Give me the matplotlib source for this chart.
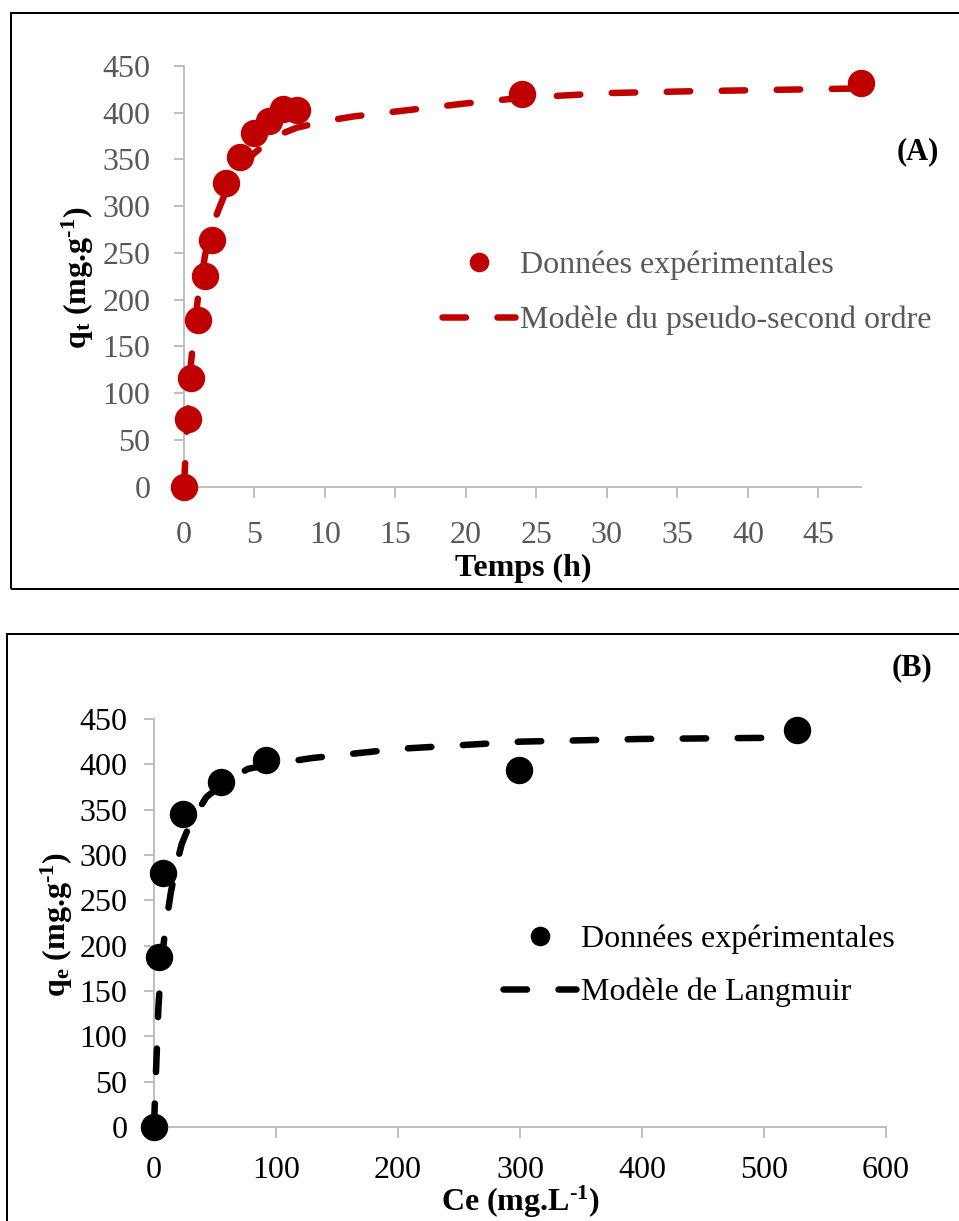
import matplotlib
matplotlib.use("Agg")
import matplotlib.pyplot as plt
from matplotlib.lines import Line2D
from matplotlib.patches import Rectangle

# ---------- DATA ----------

# (A) kinetics
temps_exp = [0, 0.25, 0.5, 1, 1.5, 2, 3, 4, 5, 6, 7, 8, 24, 48]
qt_exp = [0, 72, 116, 178, 225, 264, 325, 353, 378, 391, 404, 403, 420, 432]

temps_fit = [0, 0.25, 0.5, 1, 1.5, 2, 3, 4, 5, 6, 7, 8, 10, 12, 16, 20, 24, 30, 36, 42, 48]
qt_fit = [0, 78, 133, 204, 248, 279, 317, 341, 357, 369, 378, 384, 391, 396, 403, 410,
          416, 421, 423, 424.5, 426]

# (B) isotherm
ce_exp = [0, 4.4, 7, 24, 55, 92, 299, 527]
qe_exp = [0, 188, 280, 345, 381, 405, 394, 438]

ce_fit = [0, 1, 2.2, 3.6, 5, 7.7, 10, 13.7, 18, 22.7, 30, 43, 60, 77, 100, 130, 200,
          300, 400, 527]
qe_fit = [0, 40, 80, 132, 160, 200, 225, 258, 287, 312, 336, 364, 382, 395, 401, 407,
          417, 425, 428, 429.5]

# ---------- STYLE ----------

plt.rcParams['font.family'] = ['Liberation Serif', 'DejaVu Serif']
plt.rcParams['mathtext.fontset'] = 'custom'
plt.rcParams['mathtext.rm'] = 'Liberation Serif'
plt.rcParams['mathtext.it'] = 'Liberation Serif:italic'
plt.rcParams['mathtext.bf'] = 'Liberation Serif:bold'
plt.rcParams['lines.scale_dashes'] = False

W, H = 959, 1221
PX = 72 / 100  # pixels -> points at dpi 100

RED = '#C00000'
AXIS_GREY = '#BFBFBF'
TEXT_GREY = '#595959'
FS = 23

LW = 6.5 * PX
DASH = (23.5 * PX, 31.5 * PX)
MS = 26 * PX

# unicode hyphen keeps the short Excel-style "-1"
SUP = r'$^{\mathbf{' + '\u2010' + r'1}}$'


def fx(px):
    return px / W


def fy(py):
    return 1 - py / H


def style_axes(ax, tick_color, pad_x, pad_y):
    for side in ['top', 'right']:
        ax.spines[side].set_visible(False)
    for side in ['left', 'bottom']:
        ax.spines[side].set_color(AXIS_GREY)
        ax.spines[side].set_linewidth(2 * PX)
    ax.tick_params(axis='both', direction='out', color=AXIS_GREY, width=2 * PX,
                   labelsize=FS, labelcolor=tick_color)
    ax.tick_params(axis='x', length=11 * PX, pad=pad_x)
    ax.tick_params(axis='y', length=10 * PX, pad=pad_y)
    ax.set_facecolor('none')


fig = plt.figure(figsize=(W / 100, H / 100), dpi=100)

# panel frames
fig.add_artist(Rectangle((fx(11), fy(589)), 1.2, fy(13) - fy(589), transform=fig.transFigure,
                         fill=False, edgecolor='black', linewidth=2 * PX))
fig.add_artist(Rectangle((fx(7), -0.2), 1.2, fy(634) + 0.2, transform=fig.transFigure,
                         fill=False, edgecolor='black', linewidth=2 * PX))

# ---------- (A) ----------
ax1 = fig.add_axes([fx(184), fy(486.7), fx(860.7) - fx(184), fy(66) - fy(486.7)])
ax1.plot(temps_exp, qt_exp, 'o', color=RED, markersize=MS, linestyle='none', zorder=3)
ax1.plot(temps_fit, qt_fit, color=RED, linewidth=LW, dashes=DASH,
         dash_capstyle='round', solid_capstyle='round', zorder=4)
ax1.set_xlim(0, 48)
ax1.set_ylim(0, 450)
ax1.set_xticks(range(0, 50, 5))
ax1.set_yticks(range(0, 500, 50))
style_axes(ax1, TEXT_GREY, 17, 17)
for ln in ax1.lines:
    ln.set_clip_on(False)

h1 = [Line2D([], [], marker='o', color=RED, linestyle='none', markersize=MS * 0.7),
      Line2D([], [], color=RED, linewidth=LW, dashes=DASH, dash_capstyle='round')]
ax1.legend(h1, ['Données expérimentales', 'Modèle du pseudo-second ordre'],
           loc='center left', bbox_to_anchor=(fx(442), fy(293)),
           bbox_transform=fig.transFigure, frameon=False, fontsize=FS,
           handlelength=2.29, handletextpad=0.15, borderpad=0, borderaxespad=0,
           labelspacing=0.8, labelcolor=TEXT_GREY)

fig.text(fx(523), fy(568), 'Temps (h)', fontsize=FS, fontweight='bold',
         ha='center', va='center')
fig.text(fx(78), fy(278), r'$\mathbf{q_t}$ (mg.g' + SUP + ')', fontsize=FS,
         fontweight='bold', rotation=90, ha='center', va='center')
fig.text(fx(939), fy(152), '(A)', fontsize=22, fontweight='bold', ha='right', va='center')

# ---------- (B) ----------
ax2 = fig.add_axes([fx(154), fy(1127), fx(886) - fx(154), fy(719) - fy(1127)])
ax2.plot(ce_exp, qe_exp, 'o', color='black', markersize=MS, linestyle='none', zorder=3)
ax2.plot(ce_fit, qe_fit, color='black', linewidth=LW, dashes=DASH,
         dash_capstyle='round', solid_capstyle='round', zorder=4)
ax2.set_xlim(0, 600)
ax2.set_ylim(0, 450)
ax2.set_xticks(range(0, 700, 100))
ax2.set_yticks(range(0, 500, 50))
style_axes(ax2, 'black', 13, 12)
for ln in ax2.lines:
    ln.set_clip_on(False)

h2 = [Line2D([], [], marker='o', color='black', linestyle='none', markersize=MS * 0.7),
      Line2D([], [], color='black', linewidth=LW, dashes=DASH, dash_capstyle='round')]
ax2.legend(h2, ['Données expérimentales', 'Modèle de Langmuir'],
           loc='center left', bbox_to_anchor=(fx(503), fy(966)),
           bbox_transform=fig.transFigure, frameon=False, fontsize=FS,
           handlelength=2.29, handletextpad=0.15, borderpad=0, borderaxespad=0,
           labelspacing=0.75, labelcolor='black')

fig.text(fx(520), fy(1202), 'Ce (mg.L' + SUP + ')', fontsize=FS, fontweight='bold',
         ha='center', va='center')
fig.text(fx(57), fy(925), r'$\mathbf{q_e}$ (mg.g' + SUP + ')', fontsize=FS,
         fontweight='bold', rotation=90, ha='center', va='center')
fig.text(fx(932), fy(668), '(B)', fontsize=22, fontweight='bold', ha='right', va='center')

fig.savefig('out.png', dpi=100)
